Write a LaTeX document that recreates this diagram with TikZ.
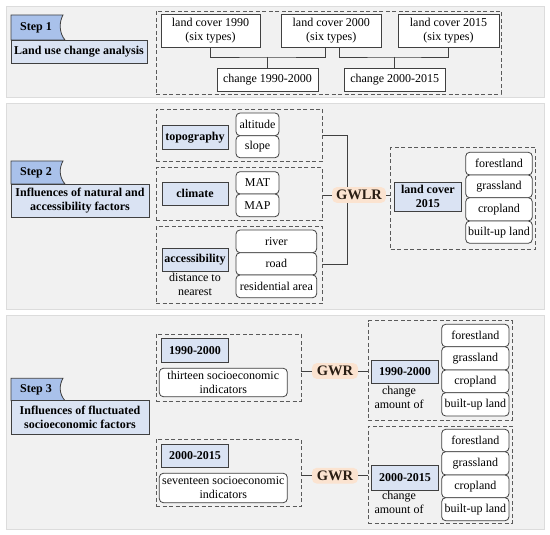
\documentclass[tikz,border=0pt]{standalone}
\usepackage{fontspec}
\setmainfont{Liberation Serif}
\definecolor{panel}{HTML}{F1F1F1}
\definecolor{panelb}{HTML}{DCDCDC}
\definecolor{tabblue}{HTML}{A9C1EA}
\definecolor{lblue}{HTML}{DAE3F3}
\definecolor{edge}{HTML}{404040}
\definecolor{dashc}{HTML}{5A5A5A}
\definecolor{glow}{HTML}{FBE3D0}
\definecolor{mtext}{HTML}{2A1E14}
\newcommand\mybox[7]{%
  \pgfmathsetmacro\mycx{(#3+#5)/2}%
  \pgfmathsetmacro\mycy{(#4+#6)/2}%
  \pgfmathsetmacro\myww{#5-#3}%
  \pgfmathsetmacro\myhh{#6-#4}%
  \node[#1, minimum width=\myww pt, minimum height=\myhh pt] (#2) at (\mycx,\mycy) {#7};}
\begin{document}
\begin{tikzpicture}[x=1pt,y=-1pt,
 every node/.style={font=\fontsize{12}{14}\selectfont},
 panelbox/.style={fill=panel, draw=panelb, line width=0.8pt},
 tabbox/.style={fill=tabblue, draw=edge, line width=0.8pt},
 stepbox/.style={fill=lblue, draw=edge, line width=0.8pt, inner sep=0pt, font=\fontsize{12}{14}\selectfont\bfseries, align=center},
 bluebox/.style={fill=lblue, draw=edge, line width=0.8pt, inner sep=0pt, font=\fontsize{12}{14}\selectfont\bfseries, align=center},
 whitebox/.style={fill=white, draw=edge, line width=0.8pt, inner sep=0pt, align=center},
 roundbox/.style={fill=white, draw=edge, line width=0.8pt, inner sep=0pt, rounded corners=4pt, align=center},
 dashbox/.style={draw=dashc, dash pattern=on 4pt off 2.5pt, line width=0.8pt, inner sep=0pt},
 conn/.style={draw=edge, line width=0.9pt},
 method/.style={fill=glow, rounded corners=5pt, inner xsep=4pt, inner ysep=3pt, font=\fontsize{14.5}{16}\selectfont\bfseries, text=mtext},
 plain/.style={align=center, inner sep=0pt}
]
\useasboundingbox (0,0) rectangle (550,535);
% panels
\draw[panelbox] (6,6) rectangle (544,97);
\draw[panelbox] (6,103) rectangle (544,309);
\draw[panelbox] (6,315) rectangle (544,529);

% ---------- Step 1 ----------
\draw[tabbox] (11,40) -- (11,15) -- (63,15) .. controls (59,22) and (59,33) .. (65,40) -- cycle;
\node[font=\fontsize{12}{14}\selectfont\bfseries] (s1) at (36,27.5) {Step 1};
\mybox{stepbox}{t1}{11}{40}{147}{63}{Land use change analysis}
\mybox{dashbox}{d1}{156}{11}{501}{94}{}
\mybox{whitebox}{lc90}{161}{14}{260}{47}{land cover 1990\\(six types)}
\mybox{whitebox}{lc00}{281}{14}{381.5}{47}{land cover 2000\\(six types)}
\mybox{whitebox}{lc15}{398}{14}{499}{47}{land cover 2015\\(six types)}
\mybox{whitebox}{c9000}{217}{68}{318}{91}{change 1990-2000}
\mybox{whitebox}{c0015}{344.5}{68}{445}{91}{change 2000-2015}
\coordinate (m1) at (c9000.north |- 0,57);
\coordinate (m2) at (c0015.north |- 0,57);
\draw[conn] (lc90.south) |- (m1) -| ([xshift=-6pt]lc00.south);
\draw[conn] (m1) -- (c9000.north);
\draw[conn] ([xshift=8pt]lc00.south) |- (m2) -| (lc15.south);
\draw[conn] (m2) -- (c0015.north);

% ---------- Step 2 ----------
\draw[tabbox] (11,184) -- (11,161) -- (63,161) .. controls (59,168) and (59,177) .. (65,184) -- cycle;
\node[font=\fontsize{12}{14}\selectfont\bfseries] (s2) at (36,172.5) {Step 2};
\mybox{stepbox}{t2}{11}{184}{149}{217}{Influences of natural and\\accessibility factors}

\mybox{dashbox}{dtopo}{156}{109}{322.7}{161}{}
\mybox{bluebox}{topo}{162}{125.7}{228}{149}{topography}
\mybox{roundbox}{alt}{236}{113}{279}{135.7}{altitude}
\mybox{roundbox}{slope}{236}{135.7}{279}{157.7}{slope}

\mybox{dashbox}{dclim}{156}{167.7}{322.7}{220.7}{}
\mybox{bluebox}{clim}{162}{182}{228}{205.7}{climate}
\mybox{roundbox}{mat}{236}{171.7}{279}{194}{MAT}
\mybox{roundbox}{map}{236}{194}{279}{216.7}{MAP}

\mybox{dashbox}{dacc}{156}{226.7}{322.7}{303}{}
\mybox{bluebox}{acc}{162}{248}{228}{271}{accessibility}
\node[plain] (dist) at (195,284.7) {distance to\\nearest};
\mybox{roundbox}{river}{236}{230}{316.7}{252.7}{river}
\mybox{roundbox}{road}{236}{252.7}{316.7}{275}{road}
\mybox{roundbox}{resid}{236}{275}{316.7}{297.7}{residential area}

\node[method] (gwlr) at (359,195) {GWLR};
\coordinate (jx) at (347.7,195);
\draw[conn] (dtopo.east) -| (jx |- gwlr.north);
\draw[conn] (dacc.east) -| (jx |- gwlr.south);
\draw[conn] (gwlr.west -| dclim.east) -- (gwlr.west);

\mybox{dashbox}{dlc}{390.7}{147.7}{535.7}{249}{}
\mybox{bluebox}{lc}{394}{182.7}{461.7}{211}{land cover\\2015}
\mybox{roundbox}{f0}{465.7}{152.3}{532.3}{175}{forestland}
\mybox{roundbox}{g0}{465.7}{175}{532.3}{197.7}{grassland}
\mybox{roundbox}{c0}{465.7}{197.7}{532.3}{221}{cropland}
\mybox{roundbox}{u0}{465.7}{221}{532.3}{243.3}{built-up land}
\draw[conn] (gwlr.east) -- (gwlr.east -| dlc.west);

% ---------- Step 3 ----------
\draw[tabbox] (11,400.7) -- (11,378.3) -- (63,378.3) .. controls (59,385) and (59,394) .. (65,400.7) -- cycle;
\node[font=\fontsize{12}{14}\selectfont\bfseries] (s3) at (36,389.5) {Step 3};
\mybox{stepbox}{t3}{11}{400.7}{149}{434}{Influences of fluctuated\\socioeconomic factors}

\mybox{dashbox}{d9000}{156}{334}{301}{401}{}
\mybox{bluebox}{b9000}{161.7}{338.3}{228.3}{362.7}{1990-2000}
\mybox{roundbox}{thir}{159.3}{368.3}{287.3}{396.7}{thirteen socioeconomic\\indicators}

\mybox{dashbox}{d0015}{156}{439.3}{301}{506.7}{}
\mybox{bluebox}{b0015}{161.7}{444}{228.3}{467.7}{2000-2015}
\mybox{roundbox}{sev}{159.3}{473.3}{287.3}{502.7}{seventeen socioeconomic\\indicators}

\node[method, inner xsep=5pt] (gwr1) at (335,371) {GWR};
\node[method, inner xsep=5pt] (gwr2) at (335,475.7) {GWR};

\mybox{dashbox}{dr1}{368.3}{320.7}{512.3}{420}{}
\mybox{bluebox}{r9000}{371.7}{360}{438.3}{383.3}{1990-2000}
\node[plain] (ca1) at (399,397.8) {change\\amount of};
\mybox{roundbox}{f1}{441.7}{324.3}{509}{346.7}{forestland}
\mybox{roundbox}{g1}{441.7}{346.7}{509}{370}{grassland}
\mybox{roundbox}{c1}{441.7}{370}{509}{392.7}{cropland}
\mybox{roundbox}{u1}{441.7}{392.7}{509}{416}{built-up land}

\mybox{dashbox}{dr2}{368.3}{426}{512.3}{523.3}{}
\mybox{bluebox}{r0015}{371.7}{465}{438.3}{490}{2000-2015}
\node[plain] (ca2) at (399,502.7) {change\\amount of};
\mybox{roundbox}{f2}{441.7}{429.3}{509}{451.7}{forestland}
\mybox{roundbox}{g2}{441.7}{451.7}{509}{475}{grassland}
\mybox{roundbox}{c2}{441.7}{475}{509}{497.7}{cropland}
\mybox{roundbox}{u2}{441.7}{497.7}{509}{520.7}{built-up land}

\draw[conn] (gwr1.west -| d9000.east) -- (gwr1.west);
\draw[conn] (gwr1.east) -- (gwr1.east -| dr1.west);
\draw[conn] (gwr2.west -| d0015.east) -- (gwr2.west);
\draw[conn] (gwr2.east) -- (gwr2.east -| dr2.west);
\end{tikzpicture}
\end{document}
